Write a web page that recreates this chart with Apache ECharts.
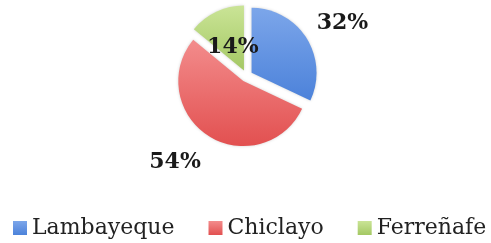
<!DOCTYPE html>
<html>
<head>
<meta charset="utf-8">
<script src="https://cdn.jsdelivr.net/npm/echarts@6/dist/echarts.min.js"></script>
<style>
  html, body { margin: 0; padding: 0; background: #fff; }
  #chart { width: 491px; height: 243px; }
</style>
</head>
<body>
<div id="chart"></div>
<script>
// datos del gráfico
const categories = ['Lambayeque', 'Chiclayo', 'Ferreñafe']
const values = [32, 54, 14]
const colors = [
  ['#7ca6ea', '#4c82da'],
  ['#f38c8c', '#e25050'],
  ['#cae496', '#a4c864']
]

const chart = echarts.init(document.getElementById('chart'))

const labelPos = ['outside', 'outside', 'inside']
// ajuste fino de etiquetas
const labelShift = [[-10, -5], [7, 11], [4, 9]]

const options = {
  animation: false,
  legend: {
    bottom: 4,
    left: 13,
    width: 478,
    padding: 0,
    icon: 'rect',
    itemWidth: 14,
    itemHeight: 14,
    itemGap: 34,
    textStyle: {
      fontFamily: 'DejaVu Serif',
      fontSize: 22,
      color: '#222'
    },
    data: categories
  },
  series: [
    {
      type: 'pie',
      center: [246.5, 76],
      radius: 65,
      startAngle: 90,
      clockwise: true,
      selectedMode: 'multiple',
      selectedOffset: 6,
      label: {
        formatter: '{d}%',
        fontFamily: 'DejaVu Serif',
        fontWeight: 'bold',
        fontSize: 22,
        color: '#1a1a1a'
      },
      labelLine: { show: false, length: 18, length2: 0 },
      labelLayout: function (p) {
        return { dx: labelShift[p.dataIndex][0], dy: labelShift[p.dataIndex][1] }
      },
      data: categories.map((name, i) => ({
        name: name,
        value: values[i],
        selected: true,
        label: { position: labelPos[i] },
        itemStyle: {
          shadowBlur: 3,
          shadowColor: 'rgba(0,0,0,0.18)',
          color: {
            type: 'linear',
            x: 0, y: 0, x2: 0, y2: 1,
            colorStops: [
              { offset: 0, color: colors[i][0] },
              { offset: 1, color: colors[i][1] }
            ]
          }
        }
      }))
    }
  ]
}

chart.setOption(options)
</script>
</body>
</html>
